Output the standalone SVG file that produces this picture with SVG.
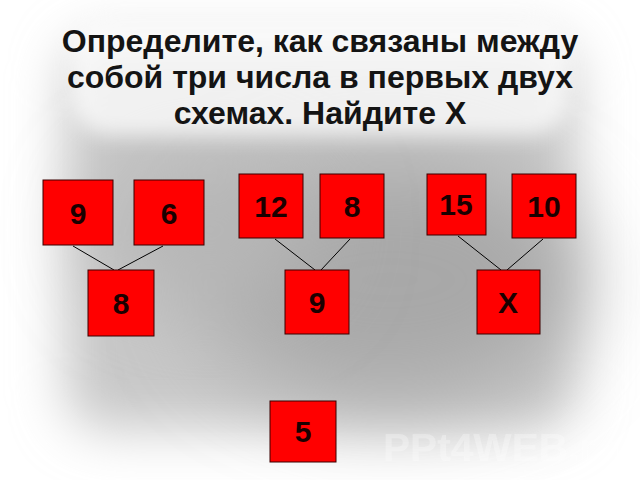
<svg xmlns="http://www.w3.org/2000/svg" width="640" height="480" viewBox="0 0 640 480">
<defs>
<filter id="soft" x="-20%" y="-20%" width="140%" height="140%">
<feGaussianBlur stdDeviation="26"/>
</filter>
<filter id="softer" x="-50%" y="-50%" width="200%" height="200%">
<feGaussianBlur stdDeviation="45"/>
</filter>
<filter id="glow" x="-10%" y="-30%" width="120%" height="160%">
<feGaussianBlur stdDeviation="10"/>
</filter>
</defs>
<style>
.box{fill:#ff0000;stroke:#3a0000;stroke-width:1}
.num{font-family:"Liberation Sans",Arial,sans-serif;font-weight:bold;font-size:30px;fill:#1a0000;text-anchor:middle}
.title{font-family:"Liberation Sans",Arial,sans-serif;font-weight:bold;font-size:32px;fill:#141414;text-anchor:middle}
.ln{stroke:#000000;stroke-width:1;fill:none}
</style>
<rect width="640" height="480" fill="#ffffff"/>
<rect x="65" y="40" width="510" height="390" rx="40" fill="#c8c8c8" filter="url(#soft)"/>
<ellipse cx="390" cy="280" rx="190" ry="120" fill="#a8a8a8" filter="url(#softer)"/>
<ellipse cx="210" cy="230" rx="110" ry="75" fill="#b6b6b6" filter="url(#softer)"/>
<rect x="70" y="18" width="500" height="118" rx="40" fill="#ffffff" opacity="0.75" filter="url(#glow)"/>
<g id="title">
<text class="title" x="320" y="52">Определите, как связаны между</text>
<text class="title" x="320" y="88">собой три числа в первых двух</text>
<text class="title" x="320" y="124">схемах. Найдите Х</text>
</g>
<g id="connectors">
<line class="ln" x1="73" y1="246" x2="114" y2="270"/>
<line class="ln" x1="163" y1="246" x2="118" y2="270"/>
<line class="ln" x1="275" y1="239" x2="315" y2="270"/>
<line class="ln" x1="350" y1="239" x2="321" y2="270"/>
<line class="ln" x1="458" y1="236" x2="501" y2="270"/>
<line class="ln" x1="543" y1="239" x2="507" y2="270"/>
</g>
<g id="n9a"><rect class="box" x="43" y="180" width="70" height="65"/><text class="num" x="78" y="224">9</text></g>
<g id="n6"><rect class="box" x="134" y="180" width="70" height="65"/><text class="num" x="169" y="224">6</text></g>
<g id="n8a"><rect class="box" x="88" y="270" width="66" height="66"/><text class="num" x="121" y="314">8</text></g>
<g id="n12"><rect class="box" x="239" y="174" width="64" height="64"/><text class="num" x="271" y="217">12</text></g>
<g id="n8b"><rect class="box" x="320" y="174" width="64" height="64"/><text class="num" x="352" y="217">8</text></g>
<g id="n9b"><rect class="box" x="285" y="270" width="64" height="64"/><text class="num" x="317" y="313">9</text></g>
<g id="n15"><rect class="box" x="427" y="174" width="59" height="61"/><text class="num" x="456" y="215">15</text></g>
<g id="n10"><rect class="box" x="512" y="174" width="64" height="64"/><text class="num" x="544" y="217">10</text></g>
<g id="nX"><rect class="box" x="477" y="270" width="63" height="64"/><text class="num" x="508" y="313">Х</text></g>
<g id="n5"><rect class="box" x="270" y="401" width="66" height="61"/><text class="num" x="303" y="442">5</text></g>
<text x="383" y="461" font-family="'Liberation Sans',Arial,sans-serif" font-weight="bold" font-size="38" textLength="237" lengthAdjust="spacingAndGlyphs" fill="#ffffff" opacity="0.3">PPt4WEB.ru</text>
</svg>
